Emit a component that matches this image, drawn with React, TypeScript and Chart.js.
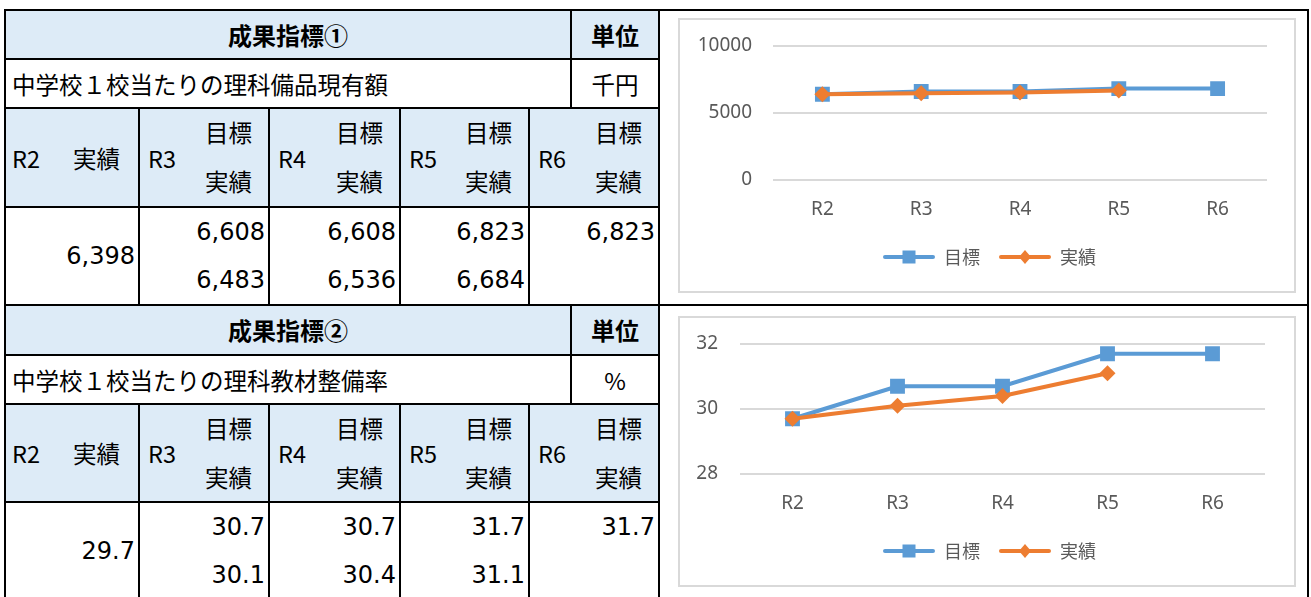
import React, { useEffect, useRef } from 'react';
import { Chart, registerables } from 'chart.js';

Chart.register(...registerables);

// ---- data ----
const categories = ['R2', 'R3', 'R4', 'R5', 'R6'];
const seriesNames = ['目標', '実績'];
const target1: (number | null)[] = [6398, 6608, 6608, 6823, 6823];
const actual1: (number | null)[] = [6398, 6483, 6536, 6684, null];
const target2: (number | null)[] = [29.7, 30.7, 30.7, 31.7, 31.7];
const actual2: (number | null)[] = [29.7, 30.1, 30.4, 31.1, null];
const yTicks1 = [0, 5000, 10000];
const yTicks2 = [28, 30, 32];
const titles = ['成果指標①', '成果指標②'];
const descriptions = ['中学校１校当たりの理科備品現有額', '中学校１校当たりの理科教材整備率'];
const units = ['千円', '%'];
const unitHeader = '単位';

const BLUE = '#5B9BD5';
const ORANGE = '#ED7D31';
const HEAD_BG = '#DDEBF7';
const CJK = '"Noto Sans CJK JP", "Noto Sans", sans-serif';
const NUM = '"DejaVu Sans", "Noto Sans CJK JP", sans-serif';

const COLS = [5, 139, 269, 400, 529, 659];
const UNIT_COL = 571;

function Box(p: { x0: number; y0: number; x1: number; y1: number; bg?: string; color?: string }) {
  return (
    <div
      style={{
        position: 'absolute',
        left: p.x0 - 1,
        top: p.y0 - 1,
        width: p.x1 - p.x0 + 2,
        height: p.y1 - p.y0 + 2,
        boxSizing: 'border-box',
        border: `2px solid ${p.color || '#000'}`,
        background: p.bg || '#fff',
      }}
    />
  );
}

function Txt(p: { l: number; r: number; cy: number; align: 'left' | 'right' | 'center'; text: string; bold?: boolean; num?: boolean }) {
  return (
    <div
      style={{
        position: 'absolute',
        left: p.l,
        width: p.r - p.l,
        top: p.cy - 20,
        height: 40,
        lineHeight: '40px',
        textAlign: p.align,
        fontWeight: p.bold ? 700 : 400,
        fontFamily: p.num ? NUM : CJK,
        fontSize: p.num ? 24 : p.bold ? 24 : 23.5,
        whiteSpace: 'nowrap',
        color: '#000',
      }}
    >
      {p.text}
    </div>
  );
}

function IndicatorTable(p: {
  rows: number[];
  title: string;
  desc: string;
  unit: string;
  targets: (number | null)[];
  actuals: (number | null)[];
  fmt: (v: number) => string;
}) {
  const [r0, r1, r2, r3, r4] = p.rows;
  const els: React.ReactNode[] = [];
  els.push(<Box key="h1" x0={COLS[0]} y0={r0} x1={UNIT_COL} y1={r1} bg={HEAD_BG} />);
  els.push(<Box key="h2" x0={UNIT_COL} y0={r0} x1={COLS[5]} y1={r1} bg={HEAD_BG} />);
  els.push(<Box key="d1" x0={COLS[0]} y0={r1} x1={UNIT_COL} y1={r2} />);
  els.push(<Box key="d2" x0={UNIT_COL} y0={r1} x1={COLS[5]} y1={r2} />);
  for (let i = 0; i < 5; i++) {
    els.push(<Box key={'c' + i} x0={COLS[i]} y0={r2} x1={COLS[i + 1]} y1={r3} bg={HEAD_BG} />);
    els.push(<Box key={'v' + i} x0={COLS[i]} y0={r3} x1={COLS[i + 1]} y1={r4} />);
  }
  els.push(<Txt key="t1" l={COLS[0]} r={UNIT_COL} cy={(r0 + r1) / 2} align="center" text={p.title} bold />);
  els.push(<Txt key="t2" l={UNIT_COL} r={COLS[5]} cy={(r0 + r1) / 2} align="center" text={unitHeader} bold />);
  els.push(<Txt key="t3" l={COLS[0] + 7} r={UNIT_COL} cy={(r1 + r2) / 2} align="left" text={p.desc} />);
  els.push(<Txt key="t4" l={UNIT_COL} r={COLS[5]} cy={(r1 + r2) / 2} align="center" text={p.unit} />);
  const midC = (r2 + r3) / 2;
  els.push(<Txt key="y0" l={COLS[0] + 7} r={COLS[1]} cy={midC} align="left" text={categories[0]} />);
  els.push(<Txt key="y0b" l={COLS[0]} r={COLS[1] - 19} cy={midC} align="right" text={seriesNames[1]} />);
  for (let i = 1; i < 5; i++) {
    els.push(<Txt key={'y' + i} l={COLS[i] + 9} r={COLS[i + 1]} cy={midC} align="left" text={categories[i]} />);
    els.push(<Txt key={'yt' + i} l={COLS[i]} r={COLS[i + 1] - 17} cy={r2 + 24} align="right" text={seriesNames[0]} />);
    els.push(<Txt key={'ya' + i} l={COLS[i]} r={COLS[i + 1] - 17} cy={r2 + 73} align="right" text={seriesNames[1]} />);
  }
  const a0 = p.actuals[0];
  if (a0 != null) {
    els.push(<Txt key="n0" l={COLS[0]} r={COLS[1] - 4} cy={r3 + 48.5} align="right" text={p.fmt(a0)} num />);
  }
  for (let i = 1; i < 5; i++) {
    const t = p.targets[i];
    const a = p.actuals[i];
    if (t != null) els.push(<Txt key={'nt' + i} l={COLS[i]} r={COLS[i + 1] - 4} cy={r3 + 24.5} align="right" text={p.fmt(t)} num />);
    if (a != null) els.push(<Txt key={'na' + i} l={COLS[i]} r={COLS[i + 1] - 4} cy={r3 + 73} align="right" text={p.fmt(a)} num />);
  }
  return <>{els}</>;
}

function legendIcon(color: string, shape: 'square' | 'diamond') {
  const c = document.createElement('canvas');
  c.width = 52;
  c.height = 18;
  const g = c.getContext('2d')!;
  g.strokeStyle = color;
  g.lineWidth = 4;
  g.lineCap = 'round';
  g.beginPath();
  g.moveTo(2, 9);
  g.lineTo(50, 9);
  g.stroke();
  g.fillStyle = color;
  if (shape === 'square') {
    g.fillRect(26 - 6.5, 9 - 6.5, 13, 13);
  } else {
    g.beginPath();
    g.moveTo(26, 2);
    g.lineTo(32, 9);
    g.lineTo(26, 16);
    g.lineTo(20, 9);
    g.closePath();
    g.fill();
  }
  return c;
}

function LineChart(p: {
  left: number;
  top: number;
  width: number;
  height: number;
  targets: (number | null)[];
  actuals: (number | null)[];
  yTicks: number[];
  yAxisWidth: number;
  rightWidth: number;
  yPad: number;
  xAxisHeight: number;
}) {
  const ref = useRef<HTMLCanvasElement | null>(null);
  useEffect(() => {
    if (!ref.current) return;
    const iconT = legendIcon(BLUE, 'square');
    const iconA = legendIcon(ORANGE, 'diamond');
    const tickFont = { family: '"Noto Sans", "Noto Sans CJK JP", sans-serif', size: 19 };
    const chart = new Chart(ref.current, {
      type: 'line',
      data: {
        labels: categories,
        datasets: [
          {
            label: seriesNames[0],
            data: p.targets,
            borderColor: BLUE,
            backgroundColor: BLUE,
            borderWidth: 4,
            pointStyle: 'rect',
            pointRadius: 10.5,
            pointBackgroundColor: BLUE,
            pointBorderColor: BLUE,
            pointBorderWidth: 0,
            order: 1,
          },
          {
            label: seriesNames[1],
            data: p.actuals,
            borderColor: ORANGE,
            backgroundColor: ORANGE,
            borderWidth: 4,
            pointStyle: 'rectRot',
            pointRadius: 8,
            pointBackgroundColor: ORANGE,
            pointBorderColor: ORANGE,
            pointBorderWidth: 0,
            order: 0,
          },
        ],
      },
      options: {
        animation: false,
        responsive: false,
        maintainAspectRatio: false,
        devicePixelRatio: 1,
        layout: { padding: { top: 25, left: 0, right: 0, bottom: 0 } },
        plugins: {
          tooltip: { enabled: false },
          legend: {
            position: 'bottom',
            labels: {
              usePointStyle: true,
              pointStyleWidth: 52,
              padding: 19,
              color: '#595959',
              font: { family: '"Noto Sans CJK JP", sans-serif', size: 18 },
              generateLabels: () => [
                { text: seriesNames[0], pointStyle: iconT as any, fillStyle: BLUE, strokeStyle: BLUE, lineWidth: 0, hidden: false, datasetIndex: 0, fontColor: '#595959' },
                { text: seriesNames[1], pointStyle: iconA as any, fillStyle: ORANGE, strokeStyle: ORANGE, lineWidth: 0, hidden: false, datasetIndex: 1, fontColor: '#595959' },
              ],
            },
          },
        },
        scales: {
          x: {
            offset: true,
            grid: { display: false },
            border: { display: false },
            ticks: { color: '#595959', font: tickFont, padding: 10 },
            afterFit: (s: any) => {
              s.height = p.xAxisHeight;
            },
          },
          y: {
            min: p.yTicks[0],
            max: p.yTicks[p.yTicks.length - 1],
            grid: { color: '#D9D9D9', lineWidth: 2, drawTicks: false },
            border: { display: false },
            ticks: {
              stepSize: p.yTicks[1] - p.yTicks[0],
              color: '#595959',
              font: tickFont,
              padding: p.yPad,
              callback: (v: any) => String(v),
            },
            afterFit: (s: any) => {
              s.width = p.yAxisWidth;
              s.paddingTop = 0;
              s.paddingBottom = 0;
            },
          },
          y2: {
            position: 'right',
            grid: { display: false },
            border: { display: false },
            ticks: { display: false },
            afterFit: (s: any) => {
              s.width = p.rightWidth;
              s.paddingTop = 0;
              s.paddingBottom = 0;
            },
          },
        },
      },
    } as any);
    return () => chart.destroy();
  }, []);
  return (
    <canvas
      ref={ref}
      width={p.width}
      height={p.height}
      style={{ position: 'absolute', left: p.left, top: p.top, width: p.width, height: p.height }}
    />
  );
}

export default function App() {
  return (
    <div style={{ position: 'absolute', left: 0, top: 0, width: 1311, height: 597, overflow: 'hidden', background: '#fff' }}>
      <IndicatorTable
        rows={[10, 59, 108, 207, 305]}
        title={titles[0]}
        desc={descriptions[0]}
        unit={units[0]}
        targets={target1}
        actuals={actual1}
        fmt={(v) => v.toLocaleString('en-US')}
      />
      <IndicatorTable
        rows={[305, 355, 404, 502, 600]}
        title={titles[1]}
        desc={descriptions[1]}
        unit={units[1]}
        targets={target2}
        actuals={actual2}
        fmt={(v) => v.toFixed(1)}
      />
      <Box x0={659} y0={10} x1={1308} y1={305} />
      <Box x0={659} y0={305} x1={1308} y1={600} />
      <Box x0={679} y0={19} x1={1295} y1={292} color="#D9D9D9" />
      <Box x0={679} y0={317} x1={1295} y1={586} color="#D9D9D9" />
      <LineChart
        left={681}
        top={21}
        width={617}
        height={255}
        targets={target1}
        actuals={actual1}
        yTicks={yTicks1}
        yAxisWidth={92}
        rightWidth={31}
        yPad={21}
        xAxisHeight={49}
      />
      <LineChart
        left={681}
        top={319}
        width={617}
        height={251}
        targets={target2}
        actuals={actual2}
        yTicks={yTicks2}
        yAxisWidth={59}
        rightWidth={33}
        yPad={22}
        xAxisHeight={49}
      />
    </div>
  );
}
